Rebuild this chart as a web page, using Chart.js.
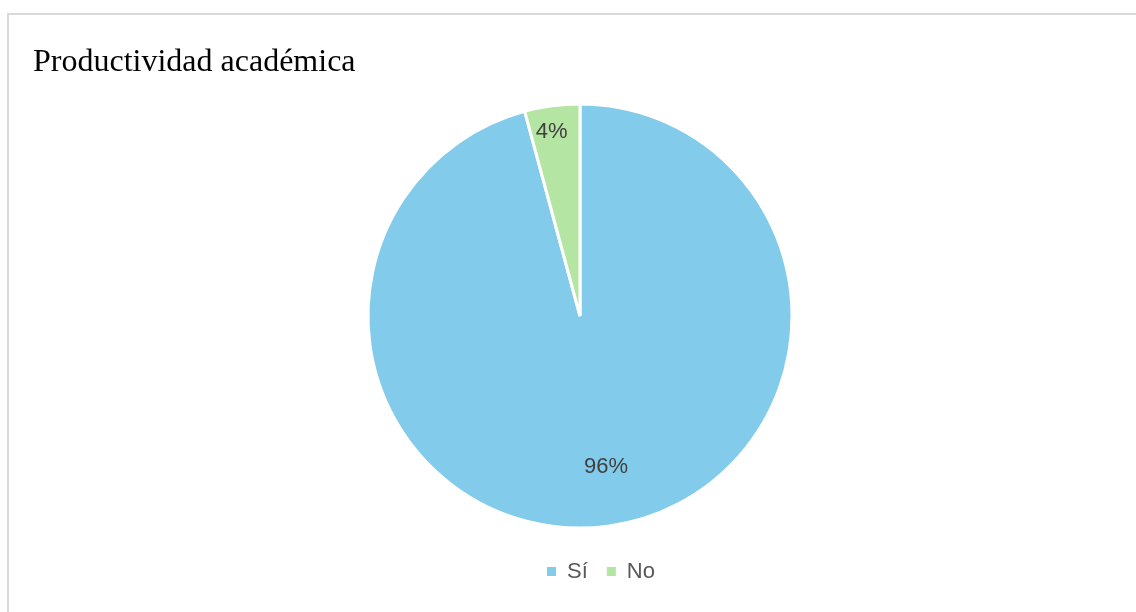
<!DOCTYPE html>
<html>
<head>
<meta charset="utf-8">
<script src="https://cdn.jsdelivr.net/npm/chart.js@4.4.1/dist/chart.umd.min.js"></script>
<style>
  html,body{margin:0;padding:0;background:#fff;}
  #wrap{position:relative;width:1136px;height:612px;overflow:hidden;}
  #frame{position:absolute;left:7px;top:13px;width:1300px;height:800px;border-left:2px solid #d9d9d9;border-top:2px solid #d9d9d9;}
  canvas{position:absolute;left:0;top:0;}
</style>
</head>
<body>
<div id="wrap">
  <div id="frame"></div>
  <canvas id="c" width="1136" height="612"></canvas>
</div>
<script>
const chartTitle = 'Productividad académica';
const categories = ['Sí', 'No'];
const values = [95.8, 4.2];
const colors = ['#83CBEB', '#B4E5A2'];

const pctLabels = {
  id: 'pctLabels',
  afterDatasetsDraw(chart, args, opts) {
    const ctx = chart.ctx;
    const meta = chart.getDatasetMeta(0);
    const data = chart.data.datasets[0].data;
    const total = data.reduce((a, b) => a + b, 0);
    ctx.save();
    ctx.font = '22px "Liberation Sans", Arial, sans-serif';
    ctx.fillStyle = '#404040';
    ctx.textAlign = 'center';
    ctx.textBaseline = 'middle';
    meta.data.forEach((arc, i) => {
      const p = arc.getProps(['x','y','startAngle','endAngle','outerRadius'], true);
      const mid = (p.startAngle + p.endAngle) / 2;
      const f = opts.factors[i];
      const x = p.x + Math.cos(mid) * p.outerRadius * f + opts.dx[i];
      const y = p.y + Math.sin(mid) * p.outerRadius * f;
      ctx.fillText(Math.round(data[i] / total * 100) + '%', x, y);
    });
    ctx.restore();
  }
};

const legendShift = {
  id: 'legendShift',
  afterLayout(chart, args, opts) {
    if (chart.legend) {
      chart.legend.left += opts.dx;
      chart.legend.right += opts.dx;
    }
  }
};

new Chart(document.getElementById('c'), {
  type: 'pie',
  data: {
    labels: categories,
    datasets: [{
      data: values,
      backgroundColor: colors,
      borderColor: '#ffffff',
      borderWidth: 3,
      radius: 212
    }]
  },
  options: {
    responsive: false,
    animation: false,
    layout: { padding: { left: 33, right: 9, top: 0, bottom: 19.5 } },
    plugins: {
      title: {
        display: true,
        text: chartTitle,
        align: 'start',
        color: '#000000',
        font: { family: '"Liberation Serif", "Times New Roman", serif', size: 32, weight: 'normal' },
        padding: { top: 43, bottom: 9.1 }
      },
      legend: {
        display: true,
        position: 'bottom',
        labels: {
          boxWidth: 9,
          boxHeight: 9,
          padding: 19,
          color: '#595959',
          font: { family: '"Liberation Sans", Arial, sans-serif', size: 22 },
          generateLabels(chart) {
            const items = Chart.overrides.pie.plugins.legend.labels.generateLabels(chart);
            return items.map(it => Object.assign(it, { lineWidth: 0, strokeStyle: 'rgba(0,0,0,0)' }));
          }
        }
      },
      tooltip: { enabled: false },
      legendShift: { dx: 21 },
      pctLabels: { factors: [0.718, 0.875], dx: [6, -4] }
    }
  },
  plugins: [pctLabels, legendShift]
});
</script>
</body>
</html>
